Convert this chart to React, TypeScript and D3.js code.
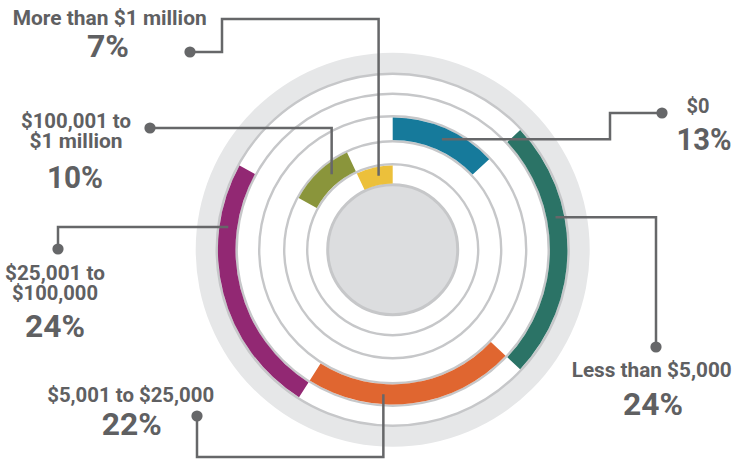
import React from 'react';
import * as d3 from 'd3';

const W = 735;
const H = 460;

// data
const categories = ['$0', 'Less than $5,000', '$5,001 to $25,000', '$25,001 to $100,000', '$100,001 to $1 million', 'More than $1 million'];
const shares = [13, 24, 22, 24, 10, 7];
const colors = ['#167a9b', '#2b7366', '#e06630', '#922873', '#8a953b', '#ecc03b'];
// ring each bar sits on, 0 = innermost
const rings = [2, 4, 3, 4, 1, 0];
const labelLines = [['$0'], ['Less than $5,000'], ['$5,001 to $25,000'], ['$25,001 to', '$100,000'], ['$100,001 to', '$1 million'], ['More than $1 million']];

// callout layout: where the leader leaves the bar (deg), its elbows, text spots
const callouts = [
  { deg: 24, route: [['H', 610], ['V', 113], ['H', 662]], x: 698, ys: [113], ws: [23], px: 704, py: 150, pw: 55 },
  { deg: 78.7, route: [['H', 656], ['V', 347]], x: 651.7, ys: [376.7], ws: [160], px: 653, py: 415, pw: 60 },
  { deg: 183.7, route: [['V', 457], ['H', 197], ['V', 416]], x: 130.7, ys: [401.7], ws: [167], px: 131.7, py: 435, pw: 60 },
  { deg: 277.9, route: [['H', 58], ['V', 249]], x: 55, ys: [280, 300], ws: [100, 86], px: 55, py: 337, pw: 60 },
  { deg: 321, route: [['V', 128], ['H', 150]], x: 76, ys: [128, 148], ws: [110, 93], px: 75, py: 188, pw: 56 },
  { deg: 349.2, route: [['V', 19], ['H', 222], ['V', 52], ['H', 190]], x: 109.7, ys: [25], ws: [194], px: 108, py: 57, pw: 42 },
];

const cx = 392.7;
const cy = 249.7;
const circleR = [65, 85.5, 108.5, 133.5, 156, 176];
const outerR = 197;
const ink = '#5f6062';
const font = 'Roboto, "Liberation Sans", sans-serif';

export default function App() {
  const angle = d3.scaleLinear().domain([0, 100]).range([0, 2 * Math.PI]);
  const cum = d3.cumsum(shares);
  const arc = d3.arc<any>();

  const bars = shares.map((v, i) => {
    const r = rings[i];
    return arc({
      innerRadius: circleR[r] + 1.2,
      outerRadius: circleR[r + 1] - 1.2,
      startAngle: angle(cum[i] - v),
      endAngle: angle(cum[i]),
    });
  });

  const band = arc({ innerRadius: circleR[5], outerRadius: outerR, startAngle: 0, endAngle: 2 * Math.PI });

  const leaders = callouts.map((c, i) => {
    const r = rings[i];
    const mid = (circleR[r] + circleR[r + 1]) / 2;
    const a = (c.deg * Math.PI) / 180;
    let x = cx + mid * Math.sin(a);
    let y = cy - mid * Math.cos(a);
    const pts: [number, number][] = [[x, y]];
    c.route.forEach(([k, val]) => {
      if (k === 'H') x = val as number;
      else y = val as number;
      pts.push([x, y]);
    });
    return pts;
  });

  const line = d3.line();

  return (
    <svg width={W} height={H} style={{ position: 'absolute', left: 0, top: 0, background: '#fff' }}>
      <g transform={`translate(${cx},${cy})`}>
        <path d={band ?? ''} fill="#e6e7e8" />
        {circleR.slice(1).map((r) => (
          <circle key={r} r={r} fill="none" stroke="#c6c7c9" strokeWidth={2.4} />
        ))}
        <circle r={circleR[0]} fill="#dcdddf" stroke="#c6c7c9" strokeWidth={3} />
        {bars.map((d, i) => (
          <path key={categories[i]} d={d ?? ''} fill={colors[i]} />
        ))}
      </g>
      {leaders.map((pts, i) => (
        <g key={categories[i]}>
          <path d={line(pts) ?? ''} fill="none" stroke="#666769" strokeWidth={2.5} />
          <circle cx={pts[pts.length - 1][0]} cy={pts[pts.length - 1][1]} r={5.6} fill="#666769" />
        </g>
      ))}
      {callouts.map((c, i) => (
        <g key={categories[i]} fill={ink} fontFamily={font} fontWeight={700} textAnchor="middle">
          {labelLines[i].map((t, j) => (
            <text key={t} x={c.x} y={c.ys[j]} fontSize={20} textLength={c.ws[j]} lengthAdjust="spacingAndGlyphs">
              {t}
            </text>
          ))}
          <text x={c.px} y={c.py} fontSize={32} textLength={c.pw} lengthAdjust="spacingAndGlyphs">
            {shares[i]}%
          </text>
        </g>
      ))}
    </svg>
  );
}
